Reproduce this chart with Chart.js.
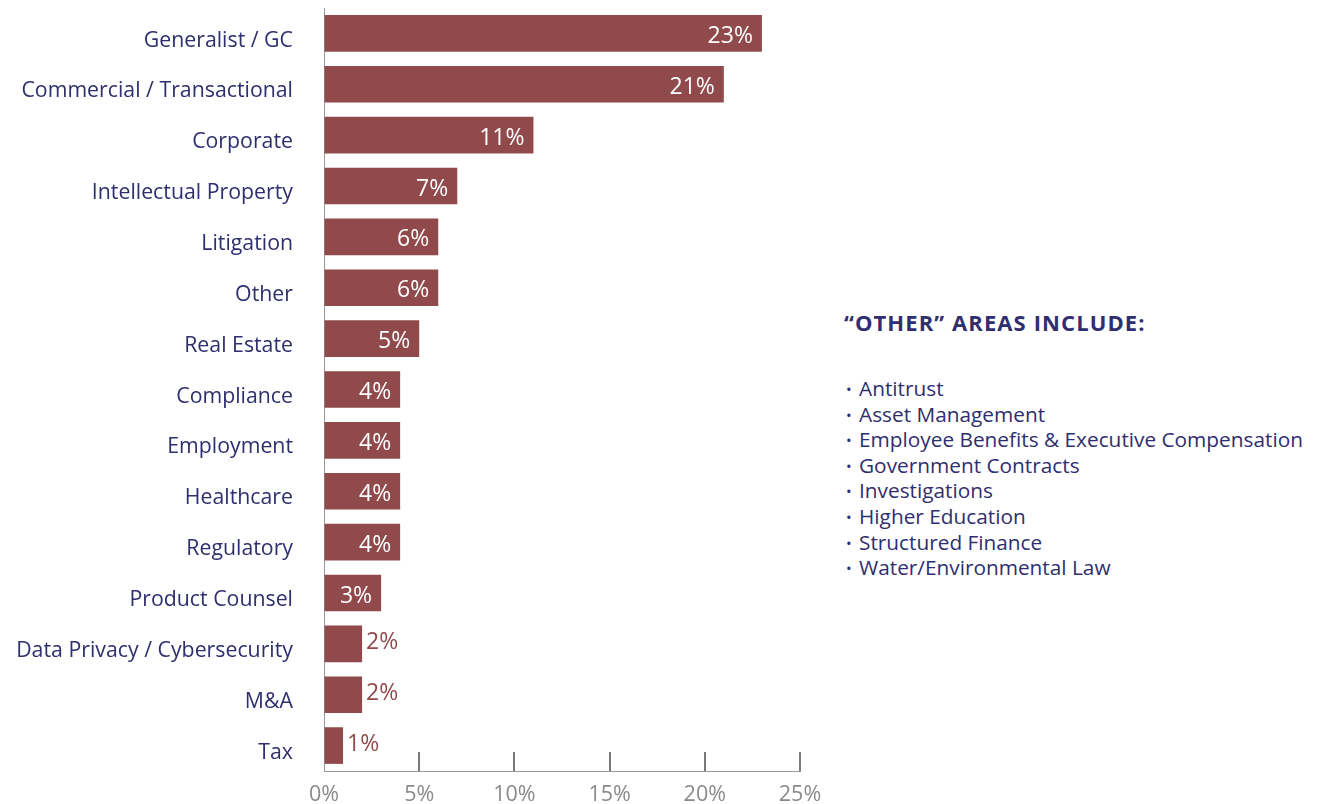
<!DOCTYPE html>
<html>
<head>
<meta charset="utf-8">
<title>Practice areas</title>
<script src="https://cdn.jsdelivr.net/npm/chart.js@4.4.1/dist/chart.umd.min.js"></script>
<style>
  html, body { margin: 0; padding: 0; background: #fff; }
  body { width: 1319px; height: 804px; position: relative; overflow: hidden; font-family: "Open Sans", sans-serif; }
  #chartBox { position: absolute; left: 0; top: 0; width: 840px; height: 804px; }
  #others { position: absolute; left: 844px; top: 307px; color: #2f2e6e; }
  #others h3 { margin: 0; font-size: 22px; font-weight: 700; letter-spacing: 1.1px; line-height: 30px; white-space: nowrap; }
  #others ul { list-style: none; margin: 0; padding: 0; position: absolute; top: 69px; left: 2px; white-space: nowrap; }
  #others li { font-size: 20.8px; line-height: 25.6px; position: relative; padding-left: 13px; }
  #others li::before { content: "\2022"; font-size: 15px; position: absolute; left: 0; top: 1px; }
</style>
</head>
<body>
<div id="chartBox"><canvas id="chart" width="840" height="804"></canvas></div>
<div id="others">
  <h3>“OTHER” AREAS INCLUDE:</h3>
  <ul id="otherList"></ul>
</div>
<script>
var categories = [
  "Generalist / GC", "Commercial / Transactional", "Corporate", "Intellectual Property",
  "Litigation", "Other", "Real Estate", "Compliance", "Employment", "Healthcare",
  "Regulatory", "Product Counsel", "Data Privacy / Cybersecurity", "M&A", "Tax"
];
var shares = [23, 21, 11, 7, 6, 6, 5, 4, 4, 4, 4, 3, 2, 2, 1];
var xTicks = [0, 5, 10, 15, 20, 25];
var otherAreas = [
  "Antitrust", "Asset Management", "Employee Benefits & Executive Compensation",
  "Government Contracts", "Investigations", "Higher Education",
  "Structured Finance", "Water/Environmental Law"
];

var barColor = "#914a4c";
var navy = "#2f2e6e";
var axisGray = "#8a8a8a";
var fontFamily = "'Open Sans', sans-serif";

var list = document.getElementById("otherList");
otherAreas.forEach(function(name) {
  var li = document.createElement("li");
  li.textContent = name;
  list.appendChild(li);
});

// percentages at the end of each bar: inside in white, outside for short bars
var valueLabels = {
  id: "valueLabels",
  afterDatasetsDraw: function(chart) {
    var ctx = chart.ctx;
    var meta = chart.getDatasetMeta(0);
    ctx.save();
    ctx.font = "23px " + fontFamily;
    ctx.textBaseline = "middle";
    meta.data.forEach(function(bar, i) {
      var v = shares[i];
      var text = v + "%";
      if (v >= 3) {
        ctx.fillStyle = "#ffffff";
        ctx.textAlign = "right";
        ctx.fillText(text, bar.x - 9, bar.y + 3);
      } else {
        ctx.fillStyle = barColor;
        ctx.textAlign = "left";
        ctx.fillText(text, bar.x + 4, bar.y - 1);
      }
    });
    ctx.restore();
  }
};

// short tick marks rising from the x axis line
var upTicks = {
  id: "upTicks",
  afterDraw: function(chart) {
    var ctx = chart.ctx;
    var x = chart.scales.x;
    var bottom = chart.chartArea.bottom;
    ctx.save();
    ctx.strokeStyle = "#7a7a7a";
    ctx.lineWidth = 2;
    xTicks.forEach(function(t) {
      if (t === 0) return;
      var px = Math.round(x.getPixelForValue(t));
      ctx.beginPath();
      ctx.moveTo(px, bottom - 19);
      ctx.lineTo(px, bottom);
      ctx.stroke();
    });
    ctx.restore();
  }
};

new Chart(document.getElementById("chart"), {
  type: "bar",
  data: {
    labels: categories,
    datasets: [{
      data: shares,
      backgroundColor: barColor,
      borderWidth: 0,
      barPercentage: 0.72,
      categoryPercentage: 1.0
    }]
  },
  options: {
    indexAxis: "y",
    responsive: false,
    animation: false,
    layout: { padding: { top: 8, right: 40, left: 0, bottom: 0 } },
    plugins: {
      legend: { display: false },
      tooltip: { enabled: false }
    },
    scales: {
      x: {
        min: 0,
        max: 25,
        afterBuildTicks: function(scale) {
          scale.ticks = xTicks.map(function(v) { return { value: v }; });
        },
        afterFit: function(scale) { scale.height = 33; },
        grid: { display: true, drawOnChartArea: false, drawTicks: false },
        border: { display: true, color: "#999999", width: 1 },
        ticks: {
          padding: 11,
          color: axisGray,
          font: { family: fontFamily, size: 21.5 },
          callback: function(v) { return v + "%"; }
        }
      },
      y: {
        afterFit: function(scale) { scale.width = 324; },
        // invisible tick marks keep the labels clear of the axis line
        grid: { display: true, drawOnChartArea: false, drawTicks: true, tickLength: 31, tickColor: "rgba(0,0,0,0)" },
        border: { display: true, color: "#999999", width: 1 },
        ticks: {
          padding: 0,
          labelOffset: 7,
          color: navy,
          font: { family: fontFamily, size: 21.3, lineHeight: 0.6 }
        }
      }
    }
  },
  plugins: [valueLabels, upTicks]
});
</script>
</body>
</html>
